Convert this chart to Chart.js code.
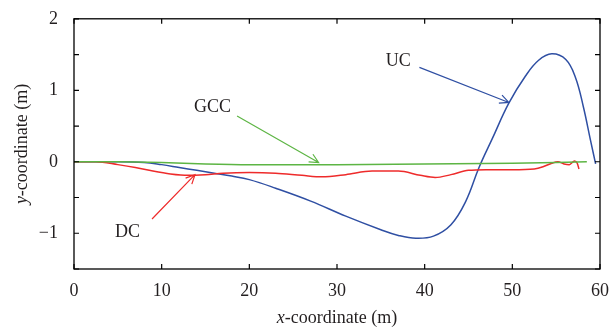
<!DOCTYPE html>
<html>
<head>
<meta charset="utf-8">
<script src="https://cdn.jsdelivr.net/npm/chart.js@4"></script>
<style>
  html, body { margin: 0; padding: 0; background: #fff; }
  #wrap { width: 612px; height: 334px; }
</style>
</head>
<body>
<div id="wrap"><canvas id="chart" width="612" height="334"></canvas></div>
<script>
// values (x in m, y in m)
const ucX = [0, 4, 8, 10, 12, 14, 16, 18, 20, 23, 27, 31, 35, 37, 39, 41, 43, 44.7, 46.2, 47.7, 49.6, 51.5, 53, 54.5, 56.1, 57.2, 58.1, 58.9, 59.5];
const ucY = [0, 0, -0.01, -0.04, -0.08, -0.12, -0.16, -0.2, -0.25, -0.37, -0.55, -0.76, -0.95, -1.03, -1.07, -1.04, -0.88, -0.55, -0.08, 0.32, 0.82, 1.2, 1.42, 1.51, 1.43, 1.18, 0.77, 0.31, -0.03];

const gccX = [0, 5, 10, 15, 20, 30, 40, 50, 55, 58.5];
const gccY = [0, 0, -0.01, -0.03, -0.04, -0.04, -0.03, -0.02, -0.01, 0];

const dcX = [0, 2.5, 5, 7, 9, 11, 13, 15, 17, 20, 23, 26, 28.3, 31, 34, 37, 39.5, 41.2, 43, 45, 47, 50, 52.5, 53.5, 54.5, 55.2, 55.9, 56.5, 57.1, 57.4, 57.6];
const dcY = [0, 0, -0.04, -0.08, -0.13, -0.17, -0.19, -0.18, -0.16, -0.15, -0.16, -0.19, -0.21, -0.18, -0.13, -0.13, -0.19, -0.22, -0.18, -0.12, -0.11, -0.11, -0.1, -0.07, -0.02, 0, -0.03, -0.04, 0.01, -0.02, -0.1];

const xTicks = [0, 10, 20, 30, 40, 50, 60];
const yTicks = [-1.5, -1, -0.5, 0, 0.5, 1, 1.5, 2];

// callouts: label, text position, arrow start, arrow tip (data units)
const noteText = ["UC", "GCC", "DC"];
const noteColor = ["#2f4fa3", "#5db544", "#ee2b2b"];
const noteAt = [[37, 1.4], [15.8, 0.76], [6.1, -0.99]];
const noteFrom = [[39.4, 1.32], [18.6, 0.64], [8.9, -0.8]];
const noteTo = [[49.6, 0.83], [27.9, -0.01], [13.8, -0.18]];

const serif = "'Liberation Serif', 'DejaVu Serif', serif";
const ink = "#231f20";

function pts(xs, ys) {
  return xs.map((x, i) => ({ x: x, y: ys[i] }));
}

const framePlugin = {
  id: "frame",
  afterDraw(chart) {
    const { ctx, chartArea: a, scales } = chart;
    const sx = scales.x, sy = scales.y;
    ctx.save();
    ctx.strokeStyle = "#000";
    ctx.lineWidth = 1.3;
    ctx.strokeRect(a.left, a.top, a.right - a.left, a.bottom - a.top);

    // inward tick marks on all four sides
    ctx.lineWidth = 1.2;
    ctx.beginPath();
    xTicks.forEach(v => {
      const p = sx.getPixelForValue(v);
      ctx.moveTo(p, a.bottom); ctx.lineTo(p, a.bottom - 5);
      ctx.moveTo(p, a.top); ctx.lineTo(p, a.top + 5);
    });
    yTicks.forEach(v => {
      const p = sy.getPixelForValue(v);
      ctx.moveTo(a.left, p); ctx.lineTo(a.left + 5, p);
      ctx.moveTo(a.right, p); ctx.lineTo(a.right - 5, p);
    });
    ctx.stroke();

    // callouts
    ctx.font = "18px " + serif;
    ctx.textAlign = "center";
    ctx.textBaseline = "middle";
    noteText.forEach((t, i) => {
      ctx.fillStyle = ink;
      ctx.fillText(t, sx.getPixelForValue(noteAt[i][0]), sy.getPixelForValue(noteAt[i][1]));
      const x0 = sx.getPixelForValue(noteFrom[i][0]), y0 = sy.getPixelForValue(noteFrom[i][1]);
      const x1 = sx.getPixelForValue(noteTo[i][0]), y1 = sy.getPixelForValue(noteTo[i][1]);
      const ang = Math.atan2(y1 - y0, x1 - x0);
      ctx.strokeStyle = noteColor[i];
      ctx.lineWidth = 1.2;
      ctx.beginPath();
      ctx.moveTo(x0, y0); ctx.lineTo(x1, y1);
      ctx.moveTo(x1 - 10 * Math.cos(ang - 0.45), y1 - 10 * Math.sin(ang - 0.45));
      ctx.lineTo(x1, y1);
      ctx.lineTo(x1 - 10 * Math.cos(ang + 0.45), y1 - 10 * Math.sin(ang + 0.45));
      ctx.stroke();
    });

    // axis titles with italic variable letter
    function mixed(parts, cx, cy) {
      let w = 0;
      parts.forEach(p => { ctx.font = p[1] + "18px " + serif; w += ctx.measureText(p[0]).width; });
      let x = cx - w / 2;
      ctx.textAlign = "left";
      parts.forEach(p => {
        ctx.font = p[1] + "18px " + serif;
        ctx.fillText(p[0], x, cy);
        x += ctx.measureText(p[0]).width;
      });
    }
    ctx.fillStyle = ink;
    ctx.textBaseline = "middle";
    mixed([["x", "italic "], ["-coordinate (m)", ""]], (a.left + a.right) / 2, 318);
    ctx.save();
    ctx.translate(22, (a.top + a.bottom) / 2);
    ctx.rotate(-Math.PI / 2);
    mixed([["y", "italic "], ["-coordinate (m)", ""]], 0, 0);
    ctx.restore();
    ctx.restore();
  }
};

const line = (data, color, smooth) => ({
  data: data,
  borderColor: color,
  borderWidth: 1.5,
  pointRadius: 0,
  fill: false,
  tension: 0.4,
  cubicInterpolationMode: smooth ? "default" : "monotone"
});

new Chart(document.getElementById("chart"), {
  type: "line",
  data: {
    datasets: [
      line(pts(gccX, gccY), "#5db544", false),
      line(pts(dcX, dcY), "#ee2b2b", false),
      line(pts(ucX, ucY), "#2f4fa3", true)
    ]
  },
  options: {
    responsive: false,
    animation: false,
    layout: { padding: { left: 0, right: 9, top: 13, bottom: 0 } },
    plugins: { legend: { display: false }, tooltip: { enabled: false } },
    scales: {
      x: {
        type: "linear",
        min: 0, max: 60,
        grid: { display: false },
        border: { display: false },
        afterBuildTicks: s => { s.ticks = xTicks.map(v => ({ value: v })); },
        afterFit: s => { s.height = 65; },
        ticks: { color: ink, font: { family: serif, size: 18 }, padding: 3, maxRotation: 0 }
      },
      y: {
        min: -1.5, max: 2,
        grid: { display: false },
        border: { display: false },
        afterBuildTicks: s => { s.ticks = yTicks.map(v => ({ value: v })); },
        afterFit: s => { s.width = 74; },
        ticks: {
          color: ink, font: { family: serif, size: 18 }, padding: 8,
          callback: v => Number.isInteger(v) ? String(v).replace("-", "\u2212") : ""
        }
      }
    }
  },
  plugins: [framePlugin]
});
</script>
</body>
</html>
